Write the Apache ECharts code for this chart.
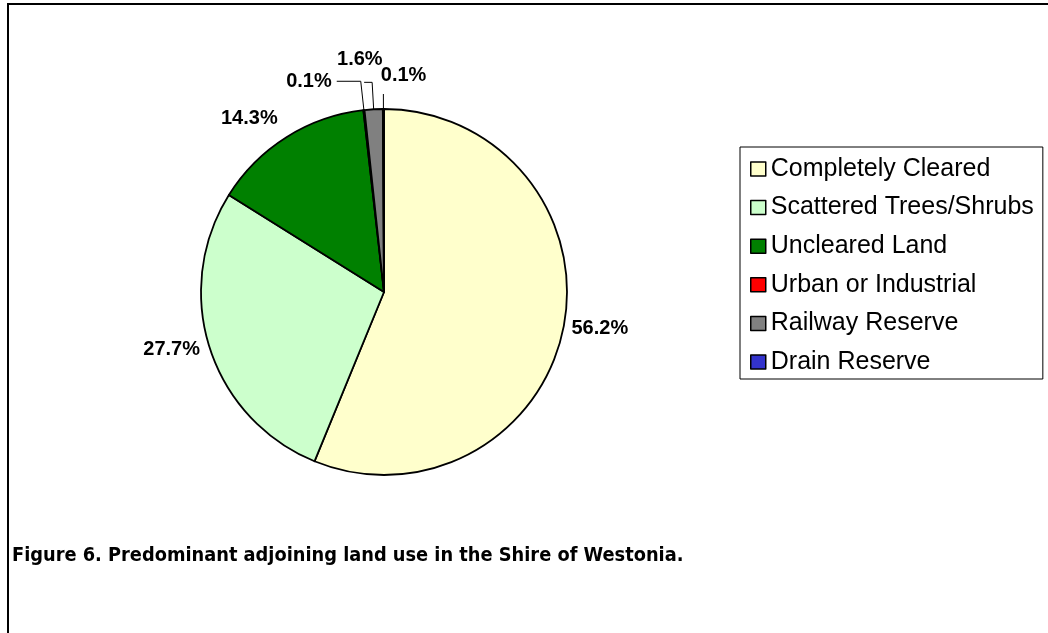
<!DOCTYPE html>
<html><head><meta charset="utf-8">
<script src="https://cdn.jsdelivr.net/npm/echarts@6/dist/echarts.min.js"></script>
<style>html,body{margin:0;padding:0;background:#fff;}#chart{width:1048px;height:633px;}</style>
</head><body><div id="chart"></div>
<script>
const categories = ['Completely Cleared', 'Scattered Trees/Shrubs', 'Uncleared Land', 'Urban or Industrial', 'Railway Reserve', 'Drain Reserve'];
const values = [56.2, 27.7, 14.3, 0.1, 1.6, 0.1];
const colors = ['#FFFFCC', '#CCFFCC', '#008000', '#FF0000', '#808080', '#3333CC'];
const captionText = 'Figure 6. Predominant adjoining land use in the Shire of Westonia.';

// label styling per slice (leader line lengths, text lift via an extra blank line)
const labelTweaks = [
  { line: false, length: 3, length2: 0, dist: 5, lift: false, lh: 22 },
  { line: false, length: 5, length2: 0, dist: 5, lift: false, lh: 22 },
  { line: false, length: 22, length2: 0, dist: -3, lift: false, lh: 22 },
  { line: true, length: 29, length2: 24, dist: 5, lift: false, lh: 22 },
  { line: true, length: 27, length2: 8, dist: -18.5, lift: true, lh: 46 },
  { line: true, length: 15, length2: 0, dist: -43, lift: true, lh: 38 }
];

const chart = echarts.init(document.getElementById('chart'), null, { renderer: 'canvas' });
const seriesData = categories.map((name, i) => ({
  name: name,
  value: values[i],
  itemStyle: { color: colors[i] },
  label: { lineHeight: labelTweaks[i].lh, distanceToLabelLine: labelTweaks[i].dist },
  labelLine: { show: labelTweaks[i].line, length: labelTweaks[i].length, length2: labelTweaks[i].length2 }
}));

chart.setOption({
  animation: false,
  backgroundColor: '#ffffff',
  legend: {
    orient: 'vertical',
    left: 740,
    top: 147,
    padding: [8, 9, 3, 10],
    itemGap: 10.6,
    itemWidth: 15,
    itemHeight: 14,
    borderColor: '#000',
    borderWidth: 1,
    selectedMode: false,
    icon: 'rect',
    itemStyle: { borderColor: '#000', borderWidth: 1.5 },
    textStyle: { fontFamily: '"Liberation Sans", Arial, sans-serif', fontSize: 25, color: '#000', lineHeight: 28 },
    data: categories
  },
  graphic: [
    { type: 'line', shape: { x1: 7, y1: 4, x2: 1048, y2: 4 }, style: { stroke: '#000', lineWidth: 2 } },
    { type: 'line', shape: { x1: 8, y1: 4, x2: 8, y2: 633 }, style: { stroke: '#000', lineWidth: 2 } },
    { type: 'text', left: 12, top: 546, style: { text: captionText, fill: '#000', font: 'bold 19.8px "DejaVu Sans Condensed", "Liberation Sans Narrow", sans-serif' } }
  ],
  series: [{
    type: 'pie',
    center: [384, 292],
    radius: 183,
    startAngle: 90,
    clockwise: true,
    avoidLabelOverlap: false,
    labelLayout: { hideOverlap: false },
    itemStyle: { borderColor: '#000', borderWidth: 1.8 },
    emphasis: { disabled: true },
    label: {
      show: true,
      position: 'outside',
      formatter: p => p.value.toFixed(1) + '%' + (labelTweaks[p.dataIndex].lift ? '\n ' : ''),
      fontFamily: '"Liberation Sans", Arial, sans-serif',
      fontWeight: 'bold',
      fontSize: 20,
      color: '#000'
    },
    labelLine: { lineStyle: { color: '#000', width: 1 }, smooth: false },
    data: seriesData
  }]
});
</script>
</body></html>
